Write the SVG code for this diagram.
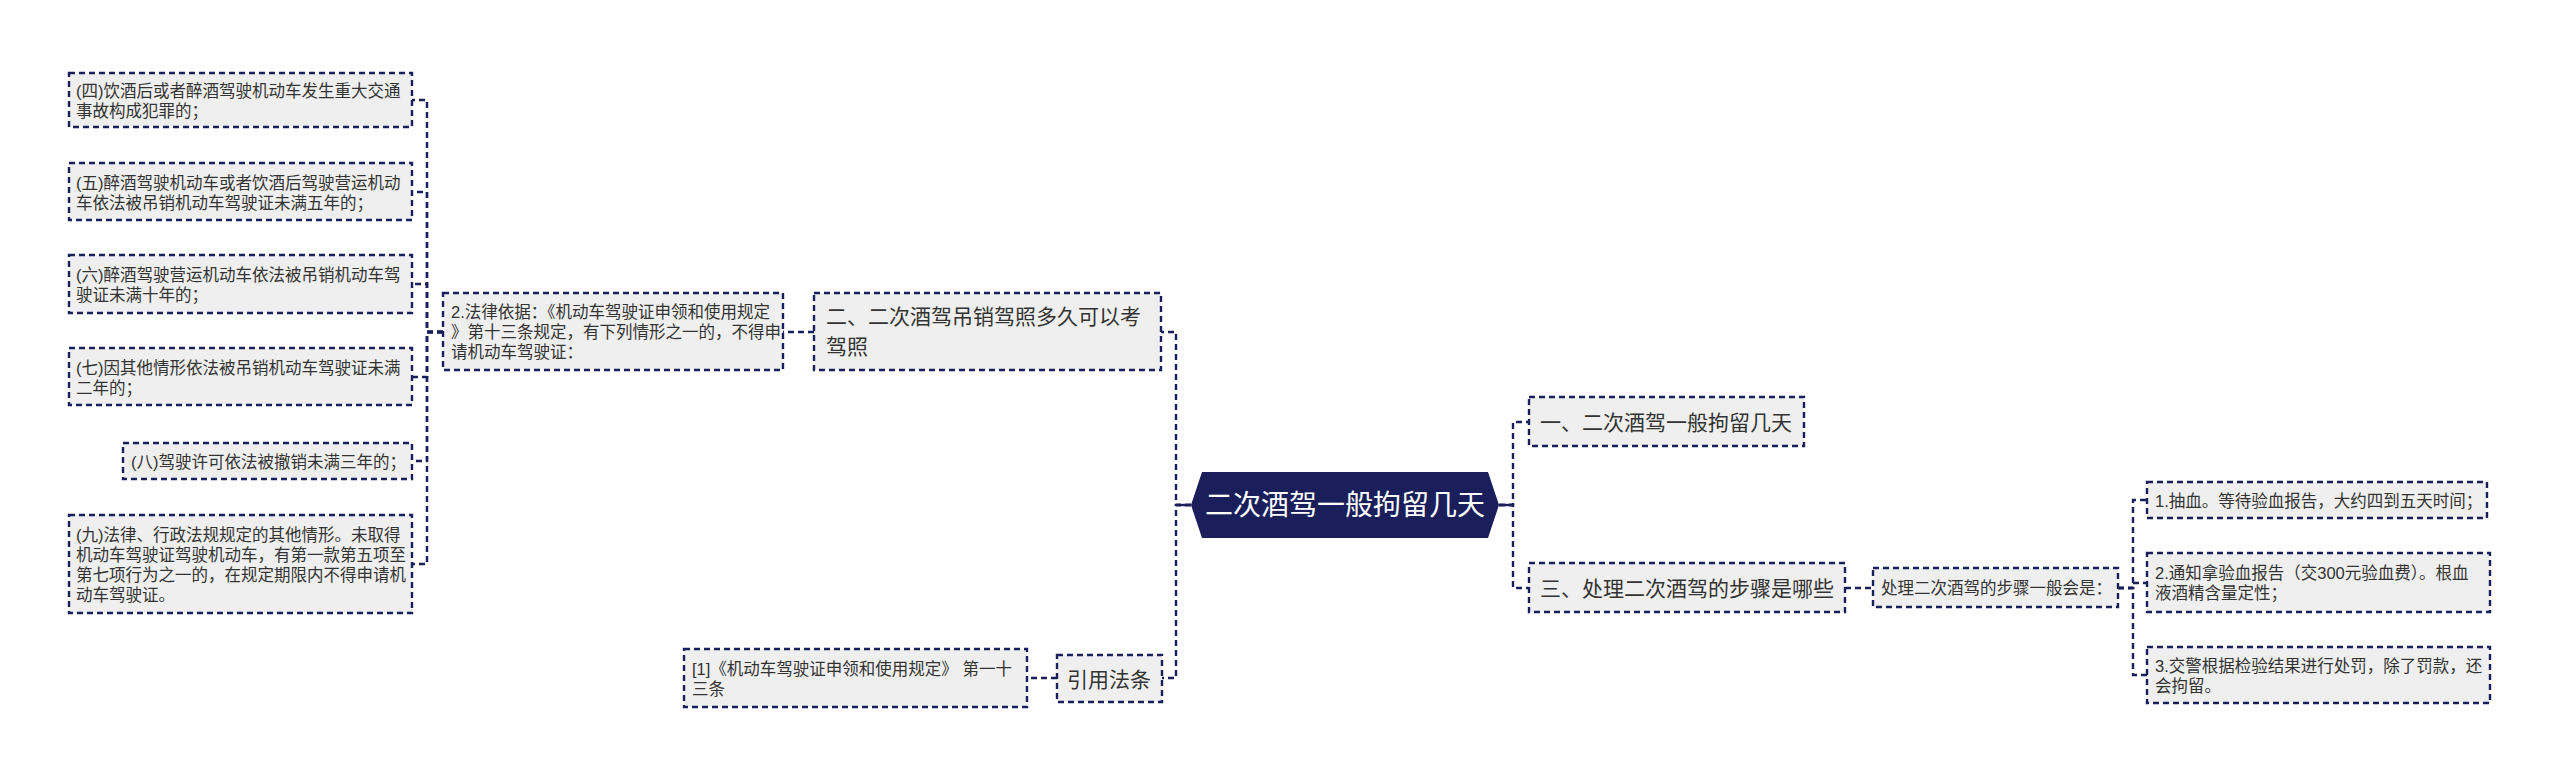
<svg xmlns="http://www.w3.org/2000/svg" width="2560" height="777" viewBox="0 0 2560 777">
<style>
.bg{fill:#ffffff}
.box{fill:#efefef;stroke:#1a1f5c;stroke-width:2.4;stroke-dasharray:6 4}
.root{fill:#1a1f5c}
.conn{fill:none;stroke:#1a1f5c;stroke-width:2.4;stroke-dasharray:6 4}
.solid{fill:none;stroke:#1a1f5c;stroke-width:2.4}
text{font-family:"Liberation Sans","Noto Sans CJK SC",sans-serif;dominant-baseline:central;fill:#333333}
.s{font-size:16.5px}
.m{font-size:21px}
.r{font-size:28px;fill:#ffffff;text-anchor:middle}
</style>
<rect class="bg" x="0" y="0" width="2560" height="777"/>
<g id="connectors">
  <path class="conn" d="M443,332 H427 V100 H412"/>
  <path class="conn" d="M443,332 H427 V192 H412"/>
  <path class="conn" d="M443,332 H427 V284 H412"/>
  <path class="conn" d="M443,332 H427 V377 H412"/>
  <path class="conn" d="M443,332 H427 V461 H412"/>
  <path class="conn" d="M443,332 H427 V564 H412"/>
  <path class="conn" d="M814,332 H783"/>
  <path class="conn" d="M1191,505 H1176 V332 H1161"/>
  <path class="conn" d="M1191,505 H1176 V678 H1162"/>
  <path class="solid" d="M1191,505 H1176"/>
  <path class="conn" d="M1057,678 H1027"/>
  <path class="conn" d="M1499,505 H1513 V422 H1529"/>
  <path class="conn" d="M1499,505 H1513 V588 H1529"/>
  <path class="solid" d="M1499,505 H1513"/>
  <path class="conn" d="M1845,588 H1873"/>
  <path class="conn" d="M2118,588 H2133 V500 H2147"/>
  <path class="conn" d="M2118,588 H2133 V583 H2147"/>
  <path class="conn" d="M2118,588 H2133 V675 H2147"/>
</g>
<g id="root">
  <polygon class="root" points="1191,505 1202,472 1488,472 1499,505 1488,538 1202,538"/>
  <text class="r" x="1345" y="505">二次酒驾一般拘留几天</text>
</g>
<g id="n-er">
  <rect class="box" x="814" y="293" width="347" height="77"/>
  <text class="m" x="826" y="316.5">二、二次酒驾吊销驾照多久可以考</text>
  <text class="m" x="826" y="346.5">驾照</text>
</g>
<g id="n-falv">
  <rect class="box" x="443" y="293" width="340" height="77"/>
  <text class="s" x="451" y="311.5">2.法律依据：《机动车驾驶证申领和使用规定</text>
  <text class="s" x="451" y="331.5">》第十三条规定，有下列情形之一的，不得申</text>
  <text class="s" x="451" y="351.5">请机动车驾驶证：</text>
</g>
<g id="n-si">
  <rect class="box" x="69" y="73" width="343" height="54"/>
  <text class="s" x="76" y="90.5">(四)饮酒后或者醉酒驾驶机动车发生重大交通</text>
  <text class="s" x="76" y="110.5">事故构成犯罪的；</text>
</g>
<g id="n-wu">
  <rect class="box" x="69" y="163" width="343" height="57"/>
  <text class="s" x="76" y="182.5">(五)醉酒驾驶机动车或者饮酒后驾驶营运机动</text>
  <text class="s" x="76" y="202.5">车依法被吊销机动车驾驶证未满五年的；</text>
</g>
<g id="n-liu">
  <rect class="box" x="69" y="255" width="343" height="58"/>
  <text class="s" x="76" y="275">(六)醉酒驾驶营运机动车依法被吊销机动车驾</text>
  <text class="s" x="76" y="295">驶证未满十年的；</text>
</g>
<g id="n-qi">
  <rect class="box" x="69" y="348" width="343" height="57"/>
  <text class="s" x="76" y="367.5">(七)因其他情形依法被吊销机动车驾驶证未满</text>
  <text class="s" x="76" y="387.5">二年的；</text>
</g>
<g id="n-ba">
  <rect class="box" x="123" y="443" width="289" height="36"/>
  <text class="s" x="131" y="461.5">(八)驾驶许可依法被撤销未满三年的；</text>
</g>
<g id="n-jiu">
  <rect class="box" x="69" y="515" width="343" height="98"/>
  <text class="s" x="76" y="534.5">(九)法律、行政法规规定的其他情形。未取得</text>
  <text class="s" x="76" y="554.5">机动车驾驶证驾驶机动车，有第一款第五项至</text>
  <text class="s" x="76" y="574.5">第七项行为之一的，在规定期限内不得申请机</text>
  <text class="s" x="76" y="594.5">动车驾驶证。</text>
</g>
<g id="n-yinyong">
  <rect class="box" x="1057" y="655" width="105" height="47"/>
  <text class="m" x="1067" y="679">引用法条</text>
</g>
<g id="n-ref1">
  <rect class="box" x="684" y="649" width="343" height="58"/>
  <text class="s" x="692" y="668.5">[1]《机动车驾驶证申领和使用规定》 第一十</text>
  <text class="s" x="692" y="688.5">三条</text>
</g>
<g id="n-yi">
  <rect class="box" x="1529" y="397" width="275" height="49"/>
  <text class="m" x="1540" y="422">一、二次酒驾一般拘留几天</text>
</g>
<g id="n-san">
  <rect class="box" x="1529" y="563" width="316" height="49"/>
  <text class="m" x="1540" y="588">三、处理二次酒驾的步骤是哪些</text>
</g>
<g id="n-chuli">
  <rect class="box" x="1873" y="568" width="245" height="39"/>
  <text class="s" x="1881" y="588">处理二次酒驾的步骤一般会是：</text>
</g>
<g id="n-step1">
  <rect class="box" x="2147" y="482" width="340" height="36"/>
  <text class="s" x="2155" y="500.5">1.抽血。等待验血报告，大约四到五天时间；</text>
</g>
<g id="n-step2">
  <rect class="box" x="2147" y="553" width="343" height="59"/>
  <text class="s" x="2155" y="573">2.通知拿验血报告（交300元验血费）。根血</text>
  <text class="s" x="2155" y="593">液酒精含量定性；</text>
</g>
<g id="n-step3">
  <rect class="box" x="2147" y="647" width="343" height="56"/>
  <text class="s" x="2155" y="665.5">3.交警根据检验结果进行处罚，除了罚款，还</text>
  <text class="s" x="2155" y="685.5">会拘留。</text>
</g>
</svg>
